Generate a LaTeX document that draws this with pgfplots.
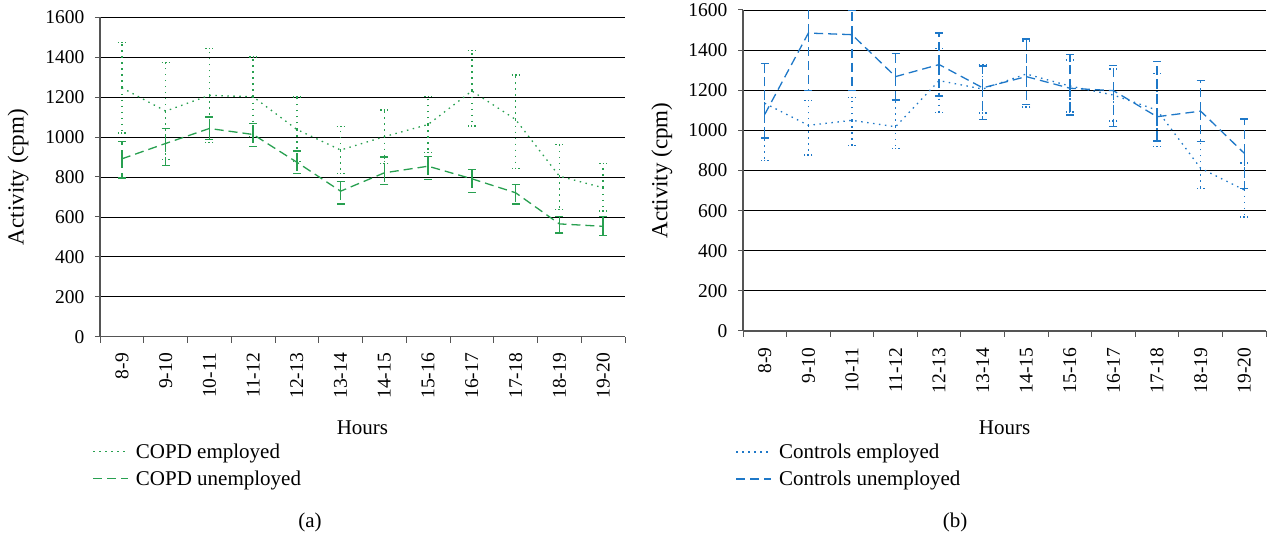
\documentclass[border=0pt]{standalone}
\usepackage{fontspec}
\setmainfont{Liberation Serif}
\usepackage{pgfplots}
\pgfplotsset{compat=1.18}
\usepackage{pgfplotstable}
\definecolor{cgreen}{RGB}{40,160,80}
\definecolor{cblue}{RGB}{30,120,200}
\definecolor{axgray}{RGB}{85,85,85}

\pgfplotstableread{
x y ep em
0 1247 226 227
1 1130 243 243
2 1209 236 236
3 1202 199 199
4 1038 162 162
5 935 117 117
6 1002 133 133
7 1063 140 140
8 1231 204 176
9 1088 223 244
10 804 159 167
11 746 120 117
}\copdemp

\pgfplotstableread{
x y ep em
0 891 87 96
1 968 75 109
2 1043 57 55
3 1013 55 60
4 874 56 58
5 729 50 64
6 821 79 57
7 854 49 68
8 791 47 67
9 721 43 56
10 565 38 45
11 553 50 45
}\copdunemp

\pgfplotstableread{
x y ep em
0 1135 200 285
1 1025 125 148
2 1050 113 126
3 1018 133 109
4 1248 160 160
5 1206 120 120
6 1281 165 165
7 1221 130 130
8 1176 130 130
9 1101 183 183
10 811 132 100
11 703 135 135
}\ctrlemp

\pgfplotstableread{
x y ep em
0 1080 255 118
1 1485 290 285
2 1477 119 277
3 1268 114 116
4 1328 157 157
5 1212 109 157
6 1268 187 138
7 1210 169 133
8 1198 124 180
9 1068 274 121
10 1096 152 153
11 886 171 175
}\ctrlunemp

\tikzset{
  dotline/.style={#1, line width=1.3bp, dash pattern=on 1.5bp off 4.5bp},
  dashline/.style={#1, line width=1.3bp, dash pattern=on 9bp off 5bp},
}

\pgfplotsset{
  myaxis/.style={
    scale only axis,
    xmin=-0.5, xmax=11.5, ymin=0, ymax=1600,
    xtick={0,...,11},
    xticklabels={8-9,9-10,10-11,11-12,12-13,13-14,14-15,15-16,16-17,17-18,18-19,19-20},
    minor xtick={-0.5,0.5,...,11.5},
    ytick={0,200,...,1600},
    ymajorgrids,
    grid style={black, line width=0.8bp},
    axis x line*=bottom, axis y line*=left,
    axis line style={axgray, line width=1.3bp, -},
    tick align=outside,
    major x tick style={draw=none},
    minor x tick style={axgray, line width=1bp},
    y tick style={axgray, line width=1bp},
    minor tick length=6bp,
    major tick length=5bp,
    /pgf/number format/assume math mode=true,
    /pgf/number format/1000 sep={},
    tick label style={font=\rmfamily\fontsize{19.5bp}{21bp}\selectfont},
    xticklabel style={rotate=90, anchor=east, xshift=-8bp},
    yticklabel style={xshift=-7bp},
    xlabel style={font=\rmfamily\fontsize{21bp}{23bp}\selectfont},
    ylabel style={font=\rmfamily\fontsize{23bp}{25bp}\selectfont},
    xlabel={Hours},
    ylabel={Activity (cpm)},
    legend style={draw=none, fill=none, font=\rmfamily\fontsize{21bp}{23bp}\selectfont,
      anchor=north west, row sep=7bp, cells={anchor=west}},
    legend image code/.code={\draw[##1] (0bp,0bp) -- (35bp,0bp);},
  },
  dotstyle/.style={dotline=#1,
    error bars/.cd, y dir=both, y explicit,
    error bar style={dotline=#1},
    error mark options={#1, rotate=90, line width=1.3bp, mark size=4bp, dash pattern=on 1.5bp off 2bp}},
  dashstyle/.style={dashline=#1,
    error bars/.cd, y dir=both, y explicit,
    error bar style={dashline=#1},
    error mark options={#1, rotate=90, line width=1.3bp, mark size=4bp, solid}},
}

\begin{document}
\begin{tikzpicture}
\path[use as bounding box] (0,0) rectangle (1271bp,538bp);

\begin{axis}[myaxis,
  at={(100bp,201.3bp)}, anchor=south west,
  width=525bp, height=319.4bp,
  xlabel style={at={(axis description cs:0.5,-0.286)}, anchor=center},
  ylabel style={at={(axis description cs:-0.156,0.5)}, anchor=center},
  legend style={at={(axis description cs:-0.02,-0.322)}},
]
\addlegendimage{dotline=cgreen}
\addlegendentry{\hspace{5bp}COPD employed}
\addlegendimage{dashline=cgreen}
\addlegendentry{\hspace{5bp}COPD unemployed}
\addplot[forget plot, dotstyle=cgreen] table[x=x, y=y, y error plus=ep, y error minus=em] {\copdemp};
\addplot[forget plot, dashstyle=cgreen] table[x=x, y=y, y error plus=ep, y error minus=em] {\copdunemp};
\end{axis}

\begin{axis}[myaxis,
  at={(743bp,207bp)}, anchor=south west,
  width=523bp, height=321bp,
  xlabel style={at={(axis description cs:0.5,-0.302)}, anchor=center},
  ylabel style={at={(axis description cs:-0.155,0.5)}, anchor=center},
  legend style={at={(axis description cs:-0.02,-0.339)}},
]
\addlegendimage{dotline=cblue}
\addlegendentry{\hspace{5bp}Controls employed}
\addlegendimage{dashline=cblue}
\addlegendentry{\hspace{5bp}Controls unemployed}
\addplot[forget plot, dotstyle=cblue] table[x=x, y=y, y error plus=ep, y error minus=em] {\ctrlemp};
\addplot[forget plot, dashstyle=cblue] table[x=x, y=y, y error plus=ep, y error minus=em] {\ctrlunemp};
\end{axis}

\node[font=\rmfamily\fontsize{21bp}{23bp}\selectfont] at (310bp,16bp) {(a)};
\node[font=\rmfamily\fontsize{21bp}{23bp}\selectfont] at (955bp,16bp) {(b)};
\end{tikzpicture}
\end{document}
